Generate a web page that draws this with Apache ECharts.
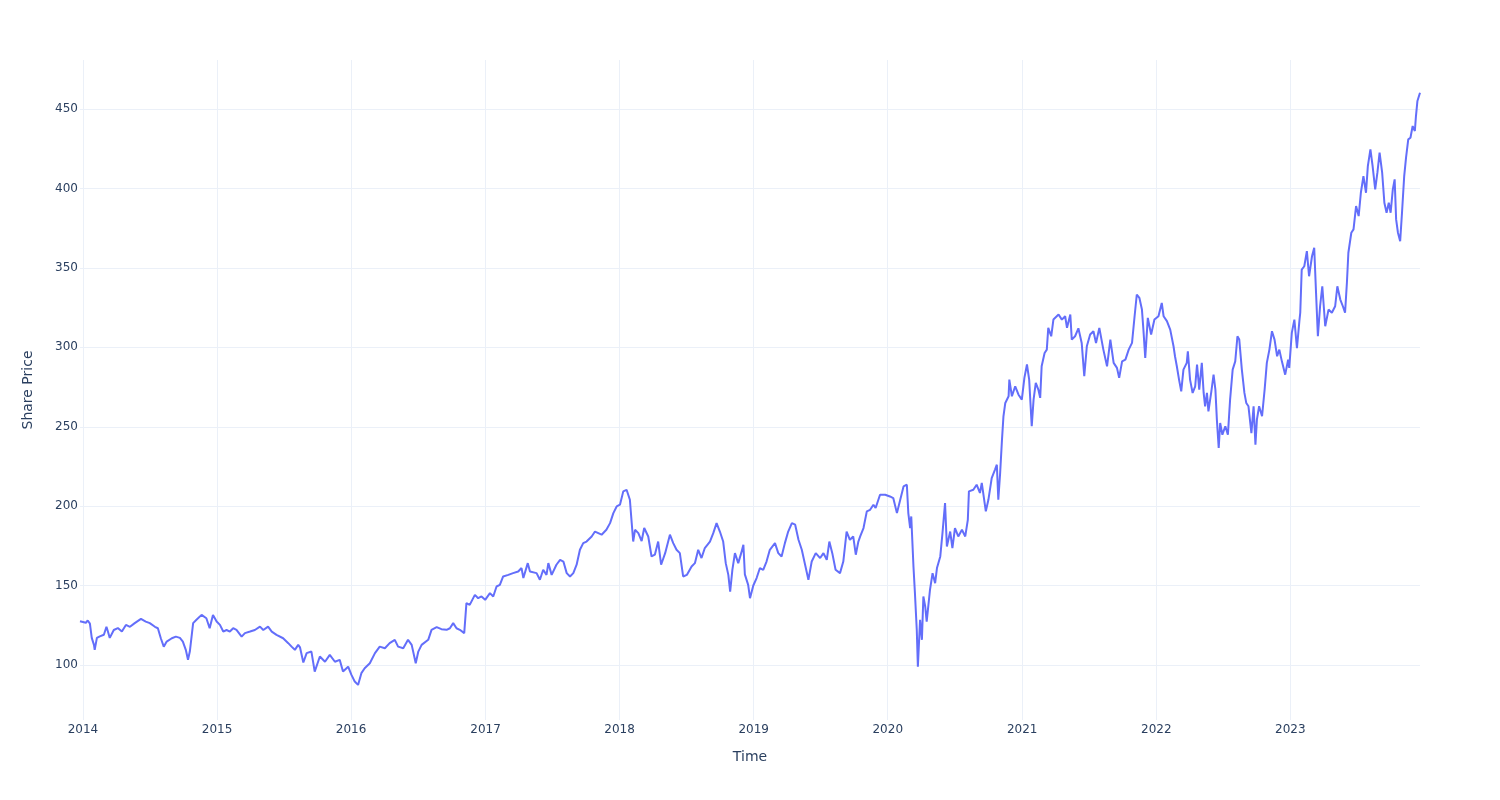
<!DOCTYPE html>
<html>
<head>
<meta charset="utf-8">
<script src="https://cdn.jsdelivr.net/npm/echarts@6/dist/echarts.min.js"></script>
<style>
html,body{margin:0;padding:0;background:#fff;}
#chart{width:1500px;height:800px;}
</style>
</head>
<body>
<div id="chart"></div>
<script>
const xTitle = "Time";
const yTitle = "Share Price";
const xStart = "2013-12-24";
const xEnd = "2023-12-20";

const dates = [
"2013-12-24","2014-01-01","2014-01-09","2014-01-14","2014-01-20","2014-01-25","2014-01-31","2014-02-02","2014-02-08","2014-02-16","2014-02-27","2014-03-06","2014-03-10","2014-03-15","2014-03-26","2014-04-06","2014-04-17","2014-04-28","2014-05-09","2014-05-22","2014-06-08","2014-06-21","2014-07-02","2014-07-16","2014-07-24","2014-08-01","2014-08-09","2014-08-17","2014-08-31","2014-09-11","2014-09-22","2014-09-30","2014-10-08","2014-10-14","2014-10-19","2014-10-28","2014-11-06","2014-11-20","2014-11-24","2014-12-03","2014-12-12","2014-12-21","2014-12-31",
"2015-01-09","2015-01-18","2015-01-27","2015-02-05","2015-02-14","2015-02-23","2015-03-09","2015-03-18","2015-04-01","2015-04-14","2015-04-28","2015-05-07","2015-05-20","2015-05-30","2015-06-12","2015-06-30","2015-07-14","2015-07-23","2015-08-01","2015-08-10","2015-08-15","2015-08-24","2015-09-02","2015-09-15","2015-09-24","2015-10-08","2015-10-22","2015-11-04","2015-11-18","2015-12-01","2015-12-10","2015-12-24",
"2016-01-02","2016-01-11","2016-01-20","2016-01-29","2016-02-07","2016-02-21","2016-03-06","2016-03-19","2016-04-02","2016-04-15","2016-04-29","2016-05-08","2016-05-22","2016-06-04","2016-06-14","2016-06-25","2016-07-02","2016-07-11","2016-07-29","2016-08-07","2016-08-21","2016-09-03","2016-09-17","2016-09-26","2016-10-05","2016-10-14","2016-10-23","2016-11-04","2016-11-10","2016-11-19","2016-12-03","2016-12-12","2016-12-21","2016-12-31",
"2017-01-13","2017-01-22","2017-01-31","2017-02-09","2017-02-18","2017-03-04","2017-03-17","2017-03-31","2017-04-09","2017-04-14","2017-04-26","2017-05-02","2017-05-20","2017-05-29","2017-06-07","2017-06-16","2017-06-21","2017-06-30","2017-07-13","2017-07-23","2017-08-01","2017-08-10","2017-08-19","2017-08-28","2017-09-06","2017-09-15","2017-09-24","2017-10-03","2017-10-17","2017-10-26","2017-11-04","2017-11-13","2017-11-26","2017-12-06","2017-12-15","2017-12-24",
"2018-01-02","2018-01-11","2018-01-20","2018-01-29","2018-02-03","2018-02-07","2018-02-12","2018-02-21","2018-03-02","2018-03-09","2018-03-20","2018-03-29","2018-04-07","2018-04-16","2018-04-24","2018-05-05","2018-05-18","2018-05-27","2018-06-05","2018-06-14","2018-06-23","2018-07-03","2018-07-16","2018-07-25","2018-08-03","2018-08-12","2018-08-21","2018-09-04","2018-09-13","2018-09-22","2018-10-01","2018-10-10","2018-10-17","2018-10-24","2018-10-29","2018-11-04","2018-11-11","2018-11-20","2018-11-28","2018-12-04","2018-12-08","2018-12-17","2018-12-22","2018-12-31",
"2019-01-09","2019-01-18","2019-01-27","2019-02-05","2019-02-14","2019-02-28","2019-03-09","2019-03-18","2019-03-27","2019-04-05","2019-04-15","2019-04-24","2019-05-03","2019-05-12","2019-05-21","2019-05-30","2019-06-08","2019-06-19","2019-07-01","2019-07-10","2019-07-19","2019-07-26","2019-08-03","2019-08-12","2019-08-24","2019-09-02","2019-09-11","2019-09-20","2019-09-29","2019-10-06","2019-10-13","2019-10-18","2019-10-27","2019-11-05","2019-11-14","2019-11-23","2019-11-29","2019-12-11","2019-12-25",
"2020-01-07","2020-01-16","2020-01-26","2020-02-04","2020-02-13","2020-02-22","2020-02-26","2020-03-02","2020-03-05","2020-03-11","2020-03-15","2020-03-20","2020-03-23","2020-03-29","2020-04-03","2020-04-07","2020-04-12","2020-04-16","2020-04-25","2020-05-02","2020-05-09","2020-05-14","2020-05-23","2020-05-29","2020-06-05","2020-06-10","2020-06-19","2020-06-25","2020-07-02","2020-07-11","2020-07-21","2020-07-30","2020-08-06","2020-08-09","2020-08-21","2020-08-30","2020-09-08","2020-09-13","2020-09-24","2020-10-01","2020-10-10","2020-10-19","2020-10-24","2020-10-28","2020-11-02","2020-11-07","2020-11-11","2020-11-16","2020-11-25","2020-11-27","2020-12-04","2020-12-13","2020-12-22","2020-12-31",
"2021-01-07","2021-01-14","2021-01-20","2021-01-27","2021-02-01","2021-02-07","2021-02-14","2021-02-19","2021-02-23","2021-03-03","2021-03-09","2021-03-13","2021-03-21","2021-03-27","2021-04-10","2021-04-19","2021-04-28","2021-05-03","2021-05-12","2021-05-16","2021-05-25","2021-06-03","2021-06-12","2021-06-19","2021-06-26","2021-07-05","2021-07-14","2021-07-21","2021-07-30","2021-08-10","2021-08-20","2021-08-29","2021-09-07","2021-09-16","2021-09-22","2021-09-30","2021-10-09","2021-10-18","2021-10-27","2021-11-03","2021-11-09","2021-11-16","2021-11-23","2021-11-27","2021-12-02","2021-12-09","2021-12-18","2021-12-27",
"2022-01-07","2022-01-16","2022-01-21","2022-01-30","2022-02-08","2022-02-17","2022-02-21","2022-02-26","2022-03-04","2022-03-10","2022-03-16","2022-03-25","2022-03-28","2022-04-03","2022-04-10","2022-04-17","2022-04-22","2022-04-28","2022-05-05","2022-05-10","2022-05-14","2022-05-19","2022-05-23","2022-05-31","2022-06-06","2022-06-11","2022-06-15","2022-06-20","2022-06-24","2022-06-30","2022-07-08","2022-07-15","2022-07-21","2022-07-28","2022-08-04","2022-08-10","2022-08-15","2022-08-22","2022-08-29","2022-09-03","2022-09-09","2022-09-17","2022-09-23","2022-09-28","2022-10-02","2022-10-08","2022-10-16","2022-10-23","2022-10-29","2022-11-05","2022-11-12","2022-11-19","2022-11-26","2022-12-02","2022-12-09","2022-12-18","2022-12-26","2022-12-29",
"2023-01-05","2023-01-12","2023-01-19","2023-01-26","2023-01-28","2023-02-01","2023-02-08","2023-02-15","2023-02-21","2023-03-01","2023-03-07","2023-03-12","2023-03-17","2023-03-23","2023-03-29","2023-04-06","2023-04-15","2023-04-24","2023-05-03","2023-05-09","2023-05-17","2023-05-24","2023-05-30","2023-06-04","2023-06-08","2023-06-16","2023-06-22","2023-06-29","2023-07-06","2023-07-12","2023-07-19","2023-07-26","2023-07-31","2023-08-07","2023-08-13","2023-08-20","2023-08-26","2023-09-01","2023-09-08","2023-09-14","2023-09-20","2023-09-26","2023-10-01","2023-10-07","2023-10-12","2023-10-16","2023-10-21","2023-10-27","2023-11-01","2023-11-07","2023-11-12","2023-11-18","2023-11-24","2023-11-30","2023-12-06","2023-12-09","2023-12-13","2023-12-16","2023-12-20"
];

const prices = [
127.5,127.0,126.5,128.0,126.0,117.0,112.6,109.5,117.0,118.0,119.0,124.0,121.0,117.0,122.0,123.2,121.0,125.2,124.0,126.3,129.0,127.3,126.3,124.0,123.1,116.8,111.5,114.7,116.8,117.8,117.0,114.7,109.5,103.2,108.4,126.3,128.4,131.5,132.6,129.4,123.1,131.5,127.3,
125.2,121.0,122.0,121.0,123.1,122.0,117.8,120.0,121.0,122.0,124.1,122.0,124.1,121.0,118.9,116.8,113.7,111.5,109.5,112.6,111.0,101.5,107.4,108.4,95.8,105.3,102.0,106.3,102.0,103.2,95.8,98.9,
93.7,89.5,87.4,94.8,97.9,101.0,107.4,111.5,110.5,113.7,115.8,111.5,110.5,115.8,112.6,101.0,108.4,112.6,115.8,122.1,123.8,122.5,122.1,123.1,126.3,123.1,122.1,120.0,138.9,137.8,144.1,142.0,143.1,141.0,
145.2,143.1,149.4,150.4,155.7,156.7,157.8,158.8,161.0,154.7,164.1,158.8,157.8,153.6,159.9,156.7,164.1,156.7,163.1,166.2,165.1,157.8,155.7,157.8,163.1,172.5,176.7,177.7,180.9,184.0,183.0,182.0,185.1,189.3,195.6,199.8,
200.9,209.3,210.3,204.0,189.3,177.7,185.1,183.0,178.0,186.2,180.9,168.3,169.4,177.7,163.1,170.4,182.0,176.7,172.5,170.4,155.7,156.7,162.0,164.1,172.5,167.3,173.6,177.7,183.0,189.3,184.0,177.7,164.1,156.7,146.2,159.9,170.4,164.1,170.4,175.7,157.0,150.4,142.0,150.0,
154.7,161.0,159.9,165.1,172.5,176.7,170.4,168.3,176.7,184.0,189.3,188.3,178.8,172.5,163.1,153.6,165.1,170.4,167.3,170.4,166.2,177.7,170.4,159.9,157.8,165.1,184.0,178.8,180.9,169.4,177.7,180.9,186.2,196.7,197.7,200.9,198.8,207.2,207.2,
206.1,205.1,195.6,204.0,212.4,213.5,195.6,186.2,193.5,162.0,145.2,122.1,98.9,128.4,115.8,143.1,136.8,127.3,147.3,157.8,151.5,161.0,168.3,183.0,202.0,174.6,184.0,173.6,186.2,180.9,185.1,180.9,191.4,209.3,210.3,213.5,208.3,214.6,196.7,204.0,217.7,223.0,226.1,204.0,220.9,241.9,256.6,265.0,269.2,279.7,269.2,275.5,270.2,267.1,
280.8,289.2,279.7,250.3,267.1,277.6,273.4,268.2,288.1,296.5,298.6,312.3,307.0,317.5,320.7,317.5,319.6,312.3,320.7,304.9,307.0,312.0,302.8,281.8,300.7,308.1,310.2,302.8,312.3,298.6,288.1,304.9,290.2,287.1,280.8,291.2,292.3,298.6,302.8,319.6,333.3,331.2,323.8,311.2,293.4,318.6,308.1,317.5,
319.6,328.0,319.6,316.5,311.2,300.7,294.4,288.1,279.7,272.3,286.0,290.2,297.5,279.7,271.3,275.5,289.2,273.4,290.2,271.3,262.9,271.3,259.7,272.3,282.8,273.4,254.5,236.6,252.4,245.0,250.3,245.0,267.1,286.0,291.2,307.0,304.9,286.0,271.3,265.0,262.9,246.0,262.9,238.7,254.5,262.9,256.6,273.4,290.2,298.6,310.2,304.9,294.4,298.6,291.2,282.8,292.3,287.1,
309.1,317.5,299.5,317.5,321.8,349.0,351.1,360.6,344.8,357.4,362.7,334.3,307.0,325.9,338.5,313.3,323.8,321.8,325.9,338.5,330.1,325.9,321.8,340.7,359.6,372.2,374.3,389.0,382.7,397.4,407.9,397.4,414.2,424.7,414.2,399.5,410.0,422.6,410.0,391.1,384.8,391.1,384.8,399.5,405.8,380.6,372.2,366.9,384.8,407.9,419.5,431.0,432.0,439.4,436.3,445.7,455.2,454.1,460.4
];

const seriesData = dates.map((d, i) => [d, prices[i]]);

const chart = echarts.init(document.getElementById('chart'), null, {renderer: 'canvas'});
const FONT = "'DejaVu Sans', Verdana, Arial, sans-serif";
const TXT = '#2a3f5f';
const GRID = '#EBF0F8';

chart.setOption({
  animation: false,
  backgroundColor: '#ffffff',
  grid: {left: 80, right: 80, top: 60, bottom: 80, containLabel: false},
  xAxis: {
    type: 'time',
    min: xStart,
    max: xEnd,
    minInterval: 365 * 24 * 3600 * 1000,
    maxInterval: 366 * 24 * 3600 * 1000,
    splitNumber: 10,
    name: xTitle,
    nameLocation: 'middle',
    nameGap: 30,
    nameTextStyle: {fontFamily: FONT, fontSize: 14, color: TXT},
    axisLine: {show: false},
    axisTick: {show: false},
    axisLabel: {
      fontFamily: FONT, fontSize: 12, color: TXT, margin: 4,
      showMinLabel: false, showMaxLabel: false,
      formatter: function (v) {
        const d = new Date(v);
        return (d.getMonth() === 0 && d.getDate() === 1) ? String(d.getFullYear()) : '';
      }
    },
    splitLine: {show: true, showMinLine: false, showMaxLine: false, lineStyle: {color: GRID, width: 1}}
  },
  yAxis: {
    type: 'value',
    min: 65.3,
    max: 481,
    splitNumber: 8,
    name: yTitle,
    nameLocation: 'middle',
    nameGap: 45,
    nameTextStyle: {fontFamily: FONT, fontSize: 14, color: TXT},
    axisLine: {show: false},
    axisTick: {show: false},
    axisLabel: {fontFamily: FONT, fontSize: 12, color: TXT, margin: 2, showMinLabel: false, showMaxLabel: false},
    splitLine: {show: true, showMinLine: false, showMaxLine: false, lineStyle: {color: GRID, width: 1}}
  },
  series: [{
    type: 'line',
    data: seriesData,
    showSymbol: false,
    symbol: 'none',
    smooth: false,
    lineStyle: {color: '#636EFA', width: 2},
    itemStyle: {color: '#636EFA'}
  }]
});
</script>
</body>
</html>
